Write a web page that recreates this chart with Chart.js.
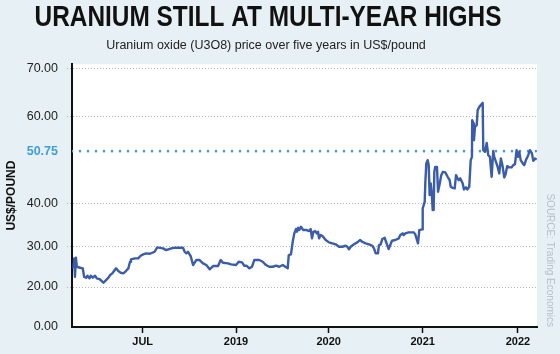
<!DOCTYPE html>
<html><head><meta charset="utf-8">
<script src="https://cdn.jsdelivr.net/npm/chart.js@4/dist/chart.umd.min.js"></script>
<style>
html,body{margin:0;padding:0;background:#e7f1f5;}
#wrap{width:560px;height:354px;position:relative;}
</style>
</head><body>
<div id="wrap"><canvas id="c" width="560" height="354"></canvas></div>
<script>
// ---- data ----
const titleText = 'URANIUM STILL AT MULTI-YEAR HIGHS';
const subtitleText = 'Uranium oxide (U3O8) price over five years in US$/pound';
const yAxisTitle = 'US$/POUND';
const sourceText = 'SOURCE: Trading Economics';

const dates = [
 2018.128,2018.132,2018.136,2018.141,2018.146,2018.164,2018.178,2018.185,2018.196,2018.203,
 2018.214,2018.221,2018.232,2018.244,2018.253,2018.267,2018.280,2018.289,2018.303,2018.316,
 2018.325,2018.337,2018.346,2018.357,2018.369,2018.382,2018.396,2018.410,2018.423,2018.432,
 2018.437,2018.459,2018.476,2018.489,2018.503,2018.518,2018.539,2018.564,2018.578,2018.609,
 2018.626,2018.653,2018.671,2018.716,2018.725,2018.734,2018.743,2018.757,2018.770,2018.787,
 2018.805,2018.823,2018.841,2018.859,2018.877,2018.904,2018.918,2018.930,2018.957,2018.973,
 2019.000,2019.029,2019.065,2019.090,2019.115,2019.143,2019.173,2019.197,2019.251,2019.288,
 2019.324,2019.359,2019.396,2019.432,2019.467,2019.504,2019.532,2019.558,2019.569,2019.593,
 2019.612,2019.629,2019.647,2019.658,2019.669,2019.683,2019.701,2019.726,2019.763,2019.788,
 2019.806,2019.820,2019.835,2019.853,2019.871,2019.885,2019.896,2019.914,2019.931,2019.968,
 2020.003,2020.038,2020.074,2020.110,2020.145,2020.181,2020.198,2020.216,2020.234,2020.269,
 2020.304,2020.333,2020.357,2020.393,2020.429,2020.464,2020.482,2020.500,2020.524,2020.535,
 2020.553,2020.570,2020.596,2020.610,2020.638,2020.655,2020.673,2020.709,2020.745,2020.762,
 2020.787,2020.798,2020.815,2020.851,2020.904,2020.921,2020.950,2020.964,2020.993,2021.000,
 2021.021,2021.028,2021.038,2021.052,2021.063,2021.073,2021.084,2021.094,2021.105,2021.115,
 2021.122,2021.132,2021.150,2021.161,2021.179,2021.195,2021.213,2021.237,2021.262,2021.283,
 2021.294,2021.315,2021.336,2021.350,2021.363,2021.378,2021.395,2021.420,2021.433,2021.454,
 2021.468,2021.489,2021.504,2021.517,2021.520,2021.531,2021.538,2021.549,2021.567,2021.577,
 2021.594,2021.619,2021.630,2021.636,2021.654,2021.672,2021.688,2021.706,2021.724,2021.741,
 2021.751,2021.769,2021.787,2021.804,2021.821,2021.839,2021.856,2021.871,2021.887,2021.908,
 2021.934,2021.951,2021.969,2021.986,2022.000,2022.014,2022.029,2022.050,2022.066,2022.084,
 2022.108,2022.126,2022.147,2022.161,2022.179,2022.197
];
const prices = [
 24.56,27.00,22.50,27.15,24.95,24.70,24.56,22.50,22.27,22.76,
 22.12,22.76,22.27,22.76,22.12,21.95,21.46,21.05,21.70,22.27,
 22.93,23.34,23.90,24.56,23.90,23.49,23.34,23.90,24.56,26.17,
 26.76,27.00,27.00,27.63,27.98,28.22,28.12,28.61,29.68,29.44,
 29.02,29.44,29.59,29.59,28.61,28.22,28.61,27.56,25.37,26.59,
 26.59,25.78,25.37,24.32,25.12,25.12,26.59,25.93,25.78,25.54,
 25.37,26.17,26.02,25.20,25.20,24.56,24.95,26.59,26.59,26.17,
 25.37,24.95,24.95,25.20,24.95,25.37,24.95,24.56,27.80,27.98,
 31.00,32.95,33.95,33.33,34.26,33.72,34.49,33.72,33.72,33.49,
 33.95,31.79,33.33,33.49,32.95,33.33,31.79,32.56,32.40,31.40,
 30.86,30.63,30.40,29.83,29.83,30.07,29.83,29.20,29.83,30.40,
 30.86,31.40,31.00,30.63,30.40,30.07,29.44,28.22,28.22,30.23,
 30.40,31.63,31.93,31.00,29.27,30.23,31.23,31.40,31.79,32.56,
 32.95,32.56,32.95,33.19,33.19,32.72,30.63,33.72,33.88,38.77,
 40.27,44.40,48.21,48.89,47.86,41.65,44.07,42.34,38.37,38.37,
 46.47,47.50,47.50,42.34,44.07,45.79,46.47,46.35,45.44,44.75,
 43.37,43.16,43.04,45.79,45.23,44.75,45.11,44.07,42.83,43.25,
 42.83,43.37,48.89,49.57,58.94,58.07,53.66,57.17,57.62,61.25,
 61.94,62.50,62.77,51.01,50.61,52.94,49.92,49.57,45.44,50.83,
 49.57,48.54,47.50,46.14,49.24,47.65,45.31,46.00,47.65,47.38,
 47.38,47.86,48.06,51.01,49.57,50.61,48.89,48.21,47.86,48.89,
 49.92,51.01,50.27,48.74,49.24,49.04
];
const currentPrice = 50.75;
const yTickValues = [0, 20, 30, 40, 50.75, 60, 70];
const xTickValues = [2018.5, 2019, 2020, 2021, 2022];
const xTickLabels = ['JUL', '2019', '2020', '2021', '2022'];
const xRange = [2018.12, 2022.2];
const yRange = [0, 70.83];

// The reference axes are not evenly spaced: piecewise mapping value -> fraction of axis length
const AXIS_BREAKS = {
  x: [[2018.12,0],[2018.5,0.152],[2019,0.3527],[2020,0.552],[2021,0.7542],[2022,0.959],[2022.2,1]],
  y: [[0,0],[20,0.1521],[30,0.3080],[40,0.4715],[50.75,0.6692],[60,0.8023],[70,0.9848],[70.83,1]]
};

class PiecewiseScale extends Chart.LinearScale {
  _breaks() { return AXIS_BREAKS[this.id]; }
  _toDecimal(v) {
    const b = this._breaks();
    if (v <= b[0][0]) return b[0][1];
    for (let i = 1; i < b.length; i++) {
      if (v <= b[i][0]) {
        const [v0, f0] = b[i-1], [v1, f1] = b[i];
        return f0 + (v - v0) / (v1 - v0) * (f1 - f0);
      }
    }
    return b[b.length-1][1];
  }
  getPixelForValue(value) {
    if (value === null || value === undefined || isNaN(value)) return NaN;
    return this.getPixelForDecimal(this._toDecimal(value));
  }
  getValueForPixel(pixel) {
    const d = this.getDecimalForPixel(pixel);
    const b = this._breaks();
    for (let i = 1; i < b.length; i++) {
      if (d <= b[i][1]) {
        const [v0, f0] = b[i-1], [v1, f1] = b[i];
        return v0 + (d - f0) / (f1 - f0) * (v1 - v0);
      }
    }
    return b[b.length-1][0];
  }
}
PiecewiseScale.id = 'piecewise';
PiecewiseScale.defaults = {};
Chart.register(PiecewiseScale);

const BLUE = '#3f9de0';
const LINE = '#3b5ca8';
const FONT = "'Liberation Sans', Arial, sans-serif";

const plotBg = {
  id: 'plotBg',
  beforeDraw(chart) {
    const {ctx, chartArea: a} = chart;
    ctx.save();
    ctx.fillStyle = '#ffffff';
    ctx.fillRect(a.left, a.top, a.right - a.left, a.bottom - a.top);
    ctx.restore();
  }
};

// Title/subtitle placement: the reference headline is a condensed face, so the
// title box is narrowed (canvas fillText maxWidth condenses it) and both are centred at x≈267.
const headingBoxes = {
  id: 'headingBoxes',
  afterInit(chart) {
    const spec = {};
    spec[titleText] = {cx: 268, half: 233.5};
    spec[subtitleText] = {cx: 266, half: 180};
    chart.boxes.forEach(box => {
      if (!box || !box.options || !('text' in box.options)) return;
      const orig = box.draw;
      box.draw = function () {
        const s = spec[this.options.text];
        if (!s) return orig.apply(this, arguments);
        const l = this.left, r = this.right, w = this.width;
        this.left = s.cx - s.half; this.right = s.cx + s.half; this.width = 2 * s.half;
        orig.apply(this, arguments);
        this.left = l; this.right = r; this.width = w;
      };
    });
  }
};

new Chart(document.getElementById('c'), {
  type: 'line',
  data: {
    datasets: [
      {
        label: 'U3O8',
        data: dates.map((d, i) => ({x: d, y: prices[i]})),
        borderColor: LINE,
        borderWidth: 2.4,
        pointRadius: 0,
        tension: 0,
        borderJoinStyle: 'round',
        order: 1
      },
      {
        label: 'Latest',
        data: [{x: xRange[0], y: currentPrice}, {x: xRange[1], y: currentPrice}],
        borderColor: BLUE,
        borderWidth: 2.6,
        borderDash: [0, 8],
        borderCapStyle: 'round',
        pointRadius: 0,
        order: 2
      }
    ]
  },
  options: {
    responsive: false,
    animation: false,
    devicePixelRatio: 1,
    events: [],
    layout: {padding: 0},
    plugins: {
      legend: {display: false},
      tooltip: {enabled: false},
      title: {
        display: true, text: titleText, color: '#111',
        font: {family: FONT, size: 30, weight: 'bold'},
        padding: {top: 0, bottom: 0}
      },
      subtitle: {
        display: true, text: subtitleText, color: '#222',
        font: {family: FONT, size: 12.5},
        padding: {top: 1.6, bottom: 11.6}
      }
    },
    scales: {
      x: {
        type: 'piecewise', position: 'bottom',
        min: xRange[0], max: xRange[1],
        afterBuildTicks: s => { s.ticks = xTickValues.map(v => ({value: v})); },
        afterFit: s => { s.height = 27; },
        ticks: {
          callback: (v, i) => xTickLabels[i],
          color: '#111', font: {family: FONT, size: 11, weight: 'bold'},
          padding: 2, maxRotation: 0, autoSkip: false
        },
        grid: {drawOnChartArea: false, drawTicks: true, tickLength: 6, tickColor: '#111', tickWidth: 1.5},
        border: {color: '#111', width: 2}
      },
      y: {
        type: 'piecewise', position: 'left',
        min: yRange[0], max: yRange[1],
        afterBuildTicks: s => { s.ticks = yTickValues.map(v => ({value: v})); },
        afterFit: s => { s.width = 72; },
        ticks: {
          callback: v => Number(v).toFixed(2),
          color: c => (c.tick && c.tick.value === currentPrice) ? BLUE : '#222',
          font: c => ({family: FONT, size: 12.5, weight: (c.tick && c.tick.value === currentPrice) ? 'bold' : 'normal'}),
          padding: 9, autoSkip: false
        },
        grid: {
          color: c => (c.tick && (c.tick.value === currentPrice || c.tick.value === 0)) ? 'rgba(0,0,0,0)' : '#b3b3b3',
          tickColor: c => (c.tick && (c.tick.value === currentPrice || c.tick.value === 0)) ? 'rgba(0,0,0,0)' : '#b3b3b3',
          lineWidth: 1, tickLength: 5, tickBorderDash: [1, 2]
        },
        border: {color: '#111', width: 2, dash: [1, 2]},
        title: {
          display: true, text: yAxisTitle, color: '#111',
          font: {family: FONT, size: 12, weight: 'bold'},
          padding: {top: 4, bottom: 0}
        }
      },
      src: {
        type: 'linear', position: 'right', display: true,
        afterFit: s => { s.width = 23; },
        grid: {display: false, drawTicks: false},
        ticks: {display: false},
        border: {display: false},
        title: {
          display: true, text: sourceText, color: '#b3c0c8', align: 'start',
          font: {family: FONT, size: 10},
          padding: {top: 4, bottom: 0}
        }
      }
    }
  },
  plugins: [plotBg, headingBoxes]
});
</script>
</body></html>
